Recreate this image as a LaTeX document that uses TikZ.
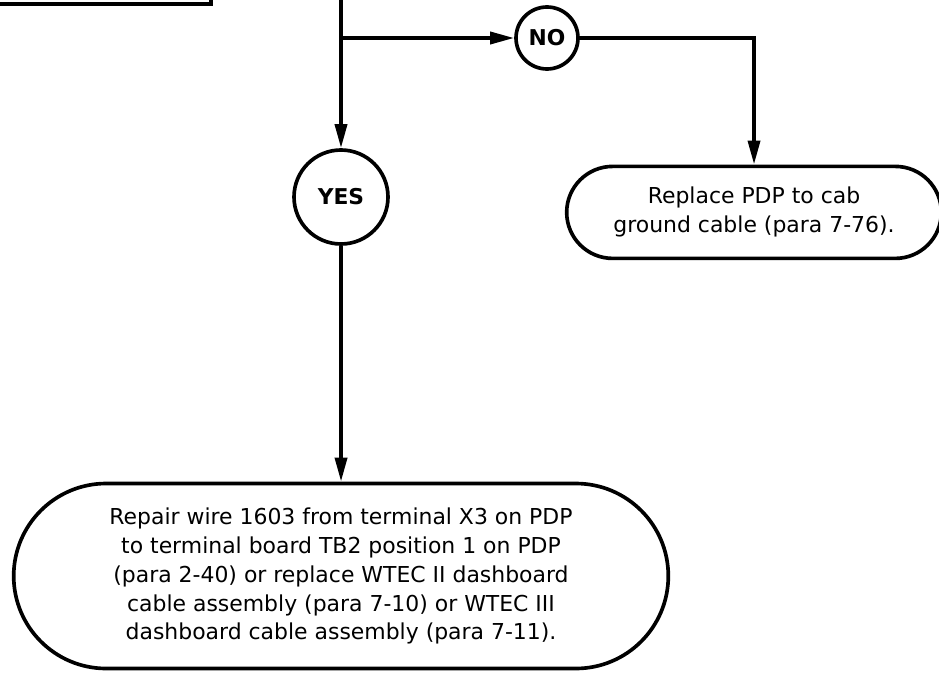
\documentclass[tikz,border=0pt]{standalone}
\usepackage{fontspec}
\setmainfont{DejaVu Sans}
\usetikzlibrary{positioning, arrows.meta, shapes.misc}

\begin{document}
\begin{tikzpicture}[
    line width=2.6pt,
    flow/.style={-{Triangle[length=0.6cm, width=0.3cm]}},
    answer/.style={draw, circle, inner sep=0pt, font=\fontsize{15.5}{18}\selectfont\bfseries},
    action/.style={draw, rounded rectangle, align=center, font=\fontsize{15.6}{20.6}\selectfont}
]
    \useasboundingbox (0,0) rectangle (23.475,-16.8);

    % Previous step (cut off at top)
    \node[draw, minimum width=8cm, minimum height=3cm, anchor=south east] (prev) at (5.325,-0.15) {};

    % Branch point
    \coordinate (in) at (8.525,0.5);
    \coordinate (split) at (8.525,-0.95);

    % Answers
    \node[answer, minimum size=1.55cm] (no) at (13.675,-0.95) {NO};
    \node[answer, minimum size=2.35cm] (yes) at (8.525,-4.925) {YES};

    % Actions
    \node[action, minimum width=9.6cm, minimum height=2.3cm] (cable) at (18.85,-5.31)
        {Replace PDP to cab\\ground cable (para 7-76).};
    \node[action, minimum width=16.6cm, minimum height=4.625cm] (repair) at (8.525,-14.4)
        {Repair wire 1603 from terminal X3 on PDP\\
         to terminal board TB2 position 1 on PDP\\
         (para 2-40) or replace WTEC II dashboard\\
         cable assembly (para 7-10) or WTEC III\\
         dashboard cable assembly (para 7-11).};

    % Connections
    \draw (in) -- (split);
    \draw[flow] (split) -- (no);
    \draw[flow] (split) -- (yes);
    \draw[flow] (no) -| (cable);
    \draw[flow] (yes) -- (repair);
\end{tikzpicture}
\end{document}
